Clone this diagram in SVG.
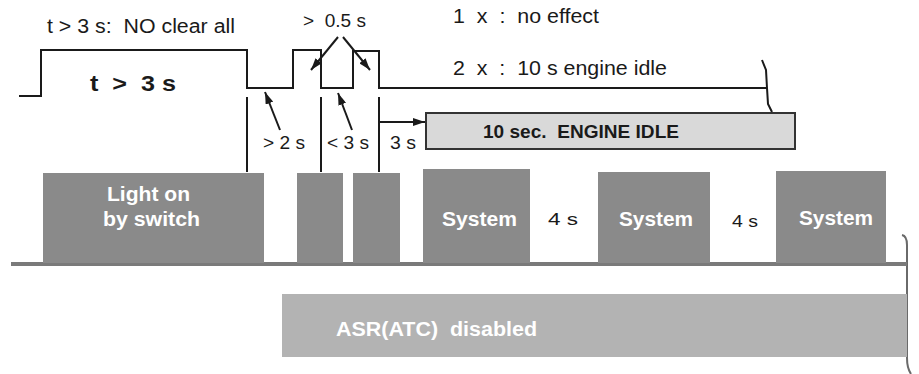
<svg xmlns="http://www.w3.org/2000/svg" width="919" height="374" viewBox="0 0 919 374" xml:space="preserve">
<defs>
<style>
text{white-space:pre}
.t{font-family:"Liberation Sans",Arial,sans-serif;fill:#1a1a1a}
.b{font-weight:bold}
.w{fill:#ffffff;font-weight:bold;font-family:"Liberation Sans",Arial,sans-serif}
.ln{fill:none;stroke:#1a1a1a;stroke-width:2}
.dark{fill:#8a8a8a}
</style>
<marker id="ah" viewBox="0 0 12 8" refX="12" refY="4" markerWidth="12" markerHeight="8" markerUnits="userSpaceOnUse" orient="auto">
<path d="M0,0 L12,4 L0,8 Z" fill="#1a1a1a"/>
</marker>
</defs>
<rect width="919" height="374" fill="#ffffff"/>
<g id="labels-top">
<text class="t" x="47" y="33" font-size="20" textLength="188" lengthAdjust="spacingAndGlyphs">t &gt; 3 s:  NO clear all</text>
<text class="t b" x="90" y="91" font-size="22" textLength="86" lengthAdjust="spacingAndGlyphs">t  &gt;  3 s</text>
<text class="t" x="303" y="27" font-size="18" textLength="63" lengthAdjust="spacingAndGlyphs">&gt;  0.5 s</text>
<text class="t" x="453" y="23" font-size="20" textLength="146" lengthAdjust="spacingAndGlyphs">1  x  :  no effect</text>
<text class="t" x="453" y="75" font-size="20" textLength="214" lengthAdjust="spacingAndGlyphs">2  x  :  10 s engine idle</text>
<text class="t" x="263" y="149" font-size="18" textLength="42" lengthAdjust="spacingAndGlyphs">&gt; 2 s</text>
<text class="t" x="327" y="149" font-size="18" textLength="42" lengthAdjust="spacingAndGlyphs">&lt; 3 s</text>
<text class="t" x="390" y="149" font-size="18" textLength="26" lengthAdjust="spacingAndGlyphs">3 s</text>
</g>
<g id="connectors">
<path class="ln" d="M19,96 H41 V50 H247 V88 H293 V50 H321 V88 H353 V51 H379 V88 H767"/>
<path class="ln" d="M762,60 L766,70 L767,88 L768,104 L772,112" stroke-width="1.8"/>
<path class="ln" d="M247,97 V172 M321,97 V172 M379,97 V172"/>
<path class="ln" d="M379,122 H425" marker-end="url(#ah)"/>
<path class="ln" d="M338,37 L311,70" marker-end="url(#ah)"/>
<path class="ln" d="M343,37 L370,70" marker-end="url(#ah)"/>
<path class="ln" d="M280,130 L265,92" marker-end="url(#ah)"/>
<path class="ln" d="M352,130 L338,93" marker-end="url(#ah)"/>
<path d="M902,235 Q907,236 907,245 V358 Q907,368 911,374" fill="none" stroke="#6a6a6a" stroke-width="2"/>
</g>
<g id="engine-idle">
<rect x="426" y="113" width="369" height="36" fill="#d9d9d9" stroke="#333333" stroke-width="2"/>
<text class="t b" x="483" y="138" font-size="19" textLength="196" lengthAdjust="spacingAndGlyphs">10 sec.  ENGINE IDLE</text>
</g>
<g id="baseline">
<rect x="11" y="262" width="896" height="4" fill="#7a7a7a"/>
</g>
<g id="light-on">
<rect class="dark" x="43" y="173" width="221" height="90"/>
<text class="w" x="107" y="201" font-size="20" textLength="83" lengthAdjust="spacingAndGlyphs">Light on</text>
<text class="w" x="103" y="226" font-size="20" textLength="97" lengthAdjust="spacingAndGlyphs">by switch</text>
</g>
<g id="pulse1"><rect class="dark" x="297" y="173" width="46" height="90"/></g>
<g id="pulse2"><rect class="dark" x="353" y="173" width="47" height="90"/></g>
<g id="system1">
<rect class="dark" x="423" y="169" width="107" height="94"/>
<text class="w" x="442" y="226" font-size="20" textLength="75" lengthAdjust="spacingAndGlyphs">System</text>
</g>
<text class="t" x="548" y="225" font-size="17" textLength="30" lengthAdjust="spacingAndGlyphs">4 s</text>
<g id="system2">
<rect class="dark" x="598" y="172" width="112" height="91"/>
<text class="w" x="619" y="226" font-size="20" textLength="74" lengthAdjust="spacingAndGlyphs">System</text>
</g>
<text class="t" x="732" y="227" font-size="17" textLength="26" lengthAdjust="spacingAndGlyphs">4 s</text>
<g id="system3">
<rect class="dark" x="776" y="171" width="110" height="92"/>
<text class="w" x="799" y="225" font-size="20" textLength="74" lengthAdjust="spacingAndGlyphs">System</text>
</g>
<g id="asr">
<rect x="282" y="294" width="625" height="63" fill="#b3b3b3"/>
<text class="w" x="336" y="336" font-size="20" textLength="201" lengthAdjust="spacingAndGlyphs">ASR(ATC)  disabled</text>
</g>
</svg>
